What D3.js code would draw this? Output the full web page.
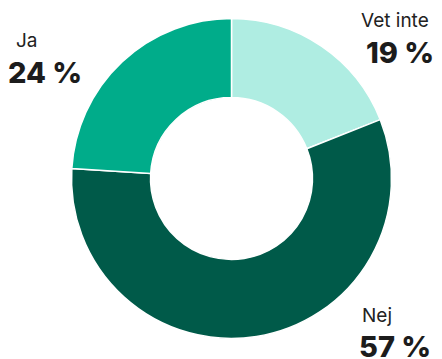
<!DOCTYPE html>
<html>
<head>
<meta charset="utf-8">
<script src="https://cdn.jsdelivr.net/npm/d3@7"></script>
<style>
    html, body { margin: 0; padding: 0; background: #fff; }
    svg { display: block; font-family: Inter, "Open Sans", sans-serif; }
    .label-name { font-size: 19px; fill: #222; }
    .label-value { font-size: 29px; font-weight: 800; fill: #1c1c1c; }
</style>
</head>
<body>
<svg class="donut"></svg>
<script>
const categories = ['Vet inte', 'Nej', 'Ja'];
const shares = [19, 57, 24];
const colors = ['#afede2', '#005a49', '#00ac8a'];

const width = 442,
    height = 359;

let svg = d3.select('.donut')
    .attr('width', width)
    .attr('height', height);

let data = categories.map((c, i) => ({ name: c, value: shares[i], color: colors[i] }));

let pieLayout = d3.pie()
    .sort(null)
    .value(d => d.value);

let arcGenerator = d3.arc()
    .innerRadius(81)
    .outerRadius(160);

let g = svg.append('g')
    .attr('transform', 'translate(231.5, 178.5)');

g.selectAll('path')
    .data(pieLayout(data))
    .enter()
    .append('path')
    .attr('d', arcGenerator)
    .style('fill', d => d.data.color)
    .style('stroke', '#fff')
    .style('stroke-width', 1.5);

// label spots, by slice: [name x, name y, value x, value y]
let spots = {
    'Vet inte': [361, 27, 366, 63],
    'Nej': [362, 322, 359, 357],
    'Ja': [16, 47, 8, 83]
};

let labels = svg.selectAll('.label')
    .data(data)
    .enter()
    .append('g')
    .attr('class', 'label');

labels.append('text')
    .attr('class', 'label-name')
    .attr('x', d => spots[d.name][0])
    .attr('y', d => spots[d.name][1])
    .text(d => d.name);

labels.append('text')
    .attr('class', 'label-value')
    .attr('x', d => spots[d.name][2])
    .attr('y', d => spots[d.name][3])
    .text(d => `${d.value} %`);
</script>
</body>
</html>
